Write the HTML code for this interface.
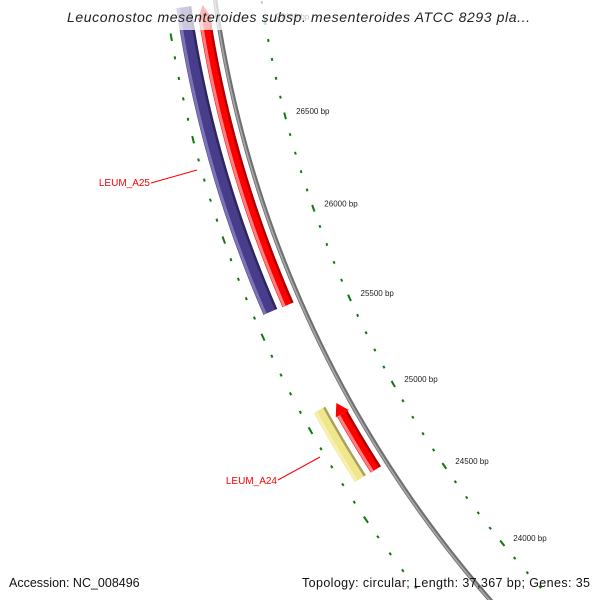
<!DOCTYPE html>
<html><head><meta charset="utf-8"><style>
html,body{margin:0;padding:0;background:#fff;overflow:hidden;}
svg{display:block;font-family:"Liberation Sans",sans-serif;}
</style></head><body>
<svg id="map" width="600" height="600" viewBox="0 0 600 600" xmlns="http://www.w3.org/2000/svg">
<g id="rings"></g>
<g id="genes"></g>
<g id="ticks"></g>
<rect x="0" y="0" width="600" height="30" fill="#fff" opacity="0.72"/>
<text x="67" y="22" font-size="14" font-style="italic" fill="#222" textLength="463" lengthAdjust="spacing">Leuconostoc mesenteroides subsp. mesenteroides ATCC 8293 pla...</text>
<g>
<line x1="151" y1="183" x2="197" y2="170" stroke="#f00" stroke-width="1"/>
<text x="150" y="186" text-anchor="end" font-size="10" fill="#f00">LEUM_A25</text>
</g>
<g>
<line x1="278" y1="480" x2="320" y2="457" stroke="#f00" stroke-width="1"/>
<text x="277" y="484" text-anchor="end" font-size="10" fill="#f00">LEUM_A24</text>
</g>
<text x="9" y="587" font-size="12.5" fill="#111">Accession: NC_008496</text>
<text x="302" y="587" font-size="12.5" fill="#111" textLength="288" lengthAdjust="spacing">Topology: circular; Length: 37,367 bp; Genes: 35</text>
</svg>
<script>
const geneNames = ["LEUM_A25-fwd","LEUM_A25-rev","LEUM_A24-fwd","LEUM_A24-rev"];
const geneStarts = [25594, 25597, 24676, 24679];
const geneEnds = [27131, 27133, 25056, 25066];
const geneStrands = [1, -1, 1, -1];
const tickStart = 23700;
const tickEnd = 27600;
const tickStep = 100;
const majorStep = 500;

const NS = "http://www.w3.org/2000/svg";
const CX = 1363.5, CY = -163.4, R = 1160;
const A0 = 165.48, K = 0.00994, B0 = 26500;
function ang(bp){ return (A0 - (B0 - bp) * K) * Math.PI / 180; }
function pt(r, bp){ const a = ang(bp); return [CX + r * Math.cos(a), CY + r * Math.sin(a)]; }
function arcPath(r, b1, b2){
  let d = ""; const n = 80;
  for (let i = 0; i <= n; i++){ const p = pt(r, b1 + (b2 - b1) * i / n); d += (i ? "L" : "M") + p[0].toFixed(2) + " " + p[1].toFixed(2); }
  return d;
}
function mk(tag, attrs, parent){ const e = document.createElementNS(NS, tag); for (const k in attrs) e.setAttribute(k, attrs[k]); parent.appendChild(e); return e; }

const rings = document.getElementById("rings");
const bb = mk("path", {d: arcPath(R, 22500, 28500), fill: "none", stroke: "#6f6f6f", "stroke-width": 4.5}, rings);


const bb2 = mk("path", {d: arcPath(R + 0.6, 22500, 28500), fill: "none", stroke: "#a8a8a8", "stroke-width": 1.6}, rings);



const genes = document.getElementById("genes");
const styles = {
  "1": {r: R + 13, w: 12, fill: "#ff0000", light: "#ff8080", dark: "#b00000"},
  "-1": {r: R + 32, w: 15, fill: "#483d8b", light: "#7d74b8", dark: "#2e2660"}
};
const heads = [74, 0, 60, 0];
for (let i = 0; i < geneNames.length; i++){
  let s = Object.assign({}, styles[String(geneStrands[i])]);
  if (i === 3){ s.fill = "#f0e68c"; s.light = "#f7f0b0"; s.dark = "#a8a060"; s.w = 13; s.r = R + 31; }
  const head = heads[i];
  const g = mk("g", {}, genes);
  
  
  const bodyEnd = head ? geneEnds[i] - head : geneEnds[i];
  mk("path", {d: arcPath(s.r, geneStarts[i], bodyEnd), fill: "none", stroke: s.fill, "stroke-width": s.w}, g);
  mk("path", {d: arcPath(s.r + s.w/2 - 2, geneStarts[i], bodyEnd), fill: "none", stroke: s.light, "stroke-width": 3}, g);
  mk("path", {d: arcPath(s.r - s.w/2 + 1.2, geneStarts[i], bodyEnd), fill: "none", stroke: s.dark, "stroke-width": 2.4}, g);
  if (head){
    const a = pt(s.r + s.w/2 + 1.5, bodyEnd), b = pt(s.r - s.w/2 - 1.5, bodyEnd), t = pt(s.r, geneEnds[i]);
    const hd = mk("polygon", {points: [a, t, b].map(p => p.join(",")).join(" "), fill: s.fill}, g);
    
    
  }
}

const ticks = document.getElementById("ticks");
[R - 46, R + 49].forEach((rr, ri) => {
  for (let bp = tickStart; bp <= tickEnd; bp += tickStep){
    const major = bp % majorStep === 0;
    const half = major ? 18 : 7;
    const t = mk("path", {d: arcPath(rr, bp - half, bp + half), fill: "none", stroke: "#0a7a0a", "stroke-width": 2}, ticks);
    
    
    if (major && ri === 0){
      const p = pt(rr, bp);
      if (p[0] + 45 > 600 || p[1] > 590) continue;
      const lb = mk("text", {x: (p[0] + 11).toFixed(1), y: (p[1] - 2).toFixed(1), "font-size": 8, fill: "#222"}, ticks);
      lb.textContent = bp + " bp";
      
      
    }
  }
});
</script>
</body></html>
